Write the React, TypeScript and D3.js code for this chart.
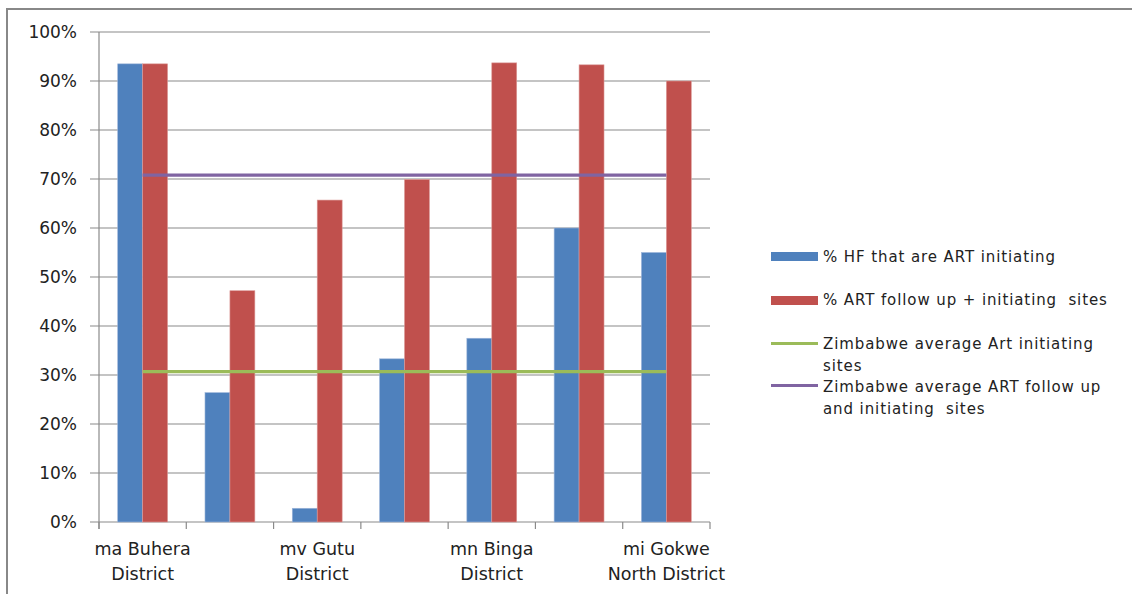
import React from "react";
import * as d3 from "d3";

const categories = [
  "ma Buhera District",
  "cat2",
  "mv Gutu District",
  "cat4",
  "mn Binga District",
  "cat6",
  "mi Gokwe North District",
];
const tickLabels: string[][] = [
  ["ma Buhera", "District"],
  [],
  ["mv Gutu", "District"],
  [],
  ["mn Binga", "District"],
  [],
  ["mi Gokwe", "North District"],
];
const hfInitiating = [93.5, 26.4, 2.8, 33.3, 37.5, 60.0, 55.0];
const followUpInitiating = [93.5, 47.2, 65.7, 69.9, 93.7, 93.3, 90.0];
const avgInitiating = 30.7;
const avgFollowUp = 70.8;
const yTicks = [0, 10, 20, 30, 40, 50, 60, 70, 80, 90, 100];

const legendLines: string[][] = [
  ["% HF that are ART initiating"],
  ["% ART follow up + initiating\u00a0 sites"],
  ["Zimbabwe average Art initiating", "sites"],
  ["Zimbabwe average ART follow up", "and initiating\u00a0 sites"],
];
const colors = ["#4F81BD", "#C0504D", "#9BBB59", "#8064A2"];

export default function App() {
  const left = 99, right = 710, top = 32, bottom = 522;
  const x = d3.scaleBand<number>().domain(d3.range(categories.length)).range([left, right]).padding(0);
  const y = d3.scaleLinear().domain([0, 100]).range([bottom, top]);
  const step = x.step();
  const bw = step / 3.5;
  const off = (step - 2 * bw) / 2;
  const center = (i: number) => (x(i) as number) + step / 2;
  const line = d3.line<number>().x((_, i) => center(i)).y((d) => y(d));
  const font = "'DejaVu Sans', sans-serif";
  const textColor = "#222";
  const legendY = [262, 305, 349, 392];

  return (
    <svg width={1132} height={594} style={{ position: "absolute", left: 0, top: 0, background: "#fff" }} fontFamily={font}>
      <rect x={7} y={9} width={1300} height={800} fill="#fff" stroke="#888" strokeWidth={2} />
      {yTicks.map((t) => (
        <g key={t}>
          <line x1={left - 9} x2={right} y1={y(t)} y2={y(t)} stroke="#8a8a8a" strokeWidth={1.2} />
          <text x={77} y={y(t) + 6} textAnchor="end" fontSize={17} fill={textColor}>{t}%</text>
        </g>
      ))}
      <line x1={left} x2={left} y1={top} y2={bottom + 7} stroke="#8a8a8a" strokeWidth={1.2} />
      {d3.range(categories.length + 1).map((i) => {
        const xx = left + i * step;
        return <line key={i} x1={xx} x2={xx} y1={bottom} y2={bottom + 7} stroke="#8a8a8a" strokeWidth={1.2} />;
      })}
      {categories.map((c, i) => (
        <g key={c}>
          <rect x={(x(i) as number) + off} y={y(hfInitiating[i])} width={bw} height={bottom - y(hfInitiating[i])} fill={colors[0]} stroke="#9db5da" strokeWidth={0.6} />
          <rect x={(x(i) as number) + off + bw} y={y(followUpInitiating[i])} width={bw} height={bottom - y(followUpInitiating[i])} fill={colors[1]} stroke="#dc9a98" strokeWidth={0.6} />
        </g>
      ))}
      <path d={line(categories.map(() => avgInitiating)) || ""} stroke={colors[2]} strokeWidth={3.2} fill="none" />
      <path d={line(categories.map(() => avgFollowUp)) || ""} stroke={colors[3]} strokeWidth={3.2} fill="none" />
      {tickLabels.map((lbls, i) =>
        lbls.map((l, j) => (
          <text key={i + "-" + j} x={center(i)} y={555 + j * 25} textAnchor="middle" fontSize={17.5} fill={textColor}>{l}</text>
        ))
      )}
      <g fontSize={15} fill={textColor} letterSpacing={0.9}>
        <rect x={771} y={252} width={47} height={9} fill={colors[0]} />
        <rect x={771} y={296} width={47} height={9} fill={colors[1]} />
        <line x1={771} x2={818} y1={343.5} y2={343.5} stroke={colors[2]} strokeWidth={3} />
        <line x1={771} x2={818} y1={385.5} y2={385.5} stroke={colors[3]} strokeWidth={3} />
        {legendLines.map((lines, k) =>
          lines.map((l, j) => (
            <text key={k + "-" + j} x={823} y={legendY[k] + j * 21.5}>{l}</text>
          ))
        )}
      </g>
    </svg>
  );
}
